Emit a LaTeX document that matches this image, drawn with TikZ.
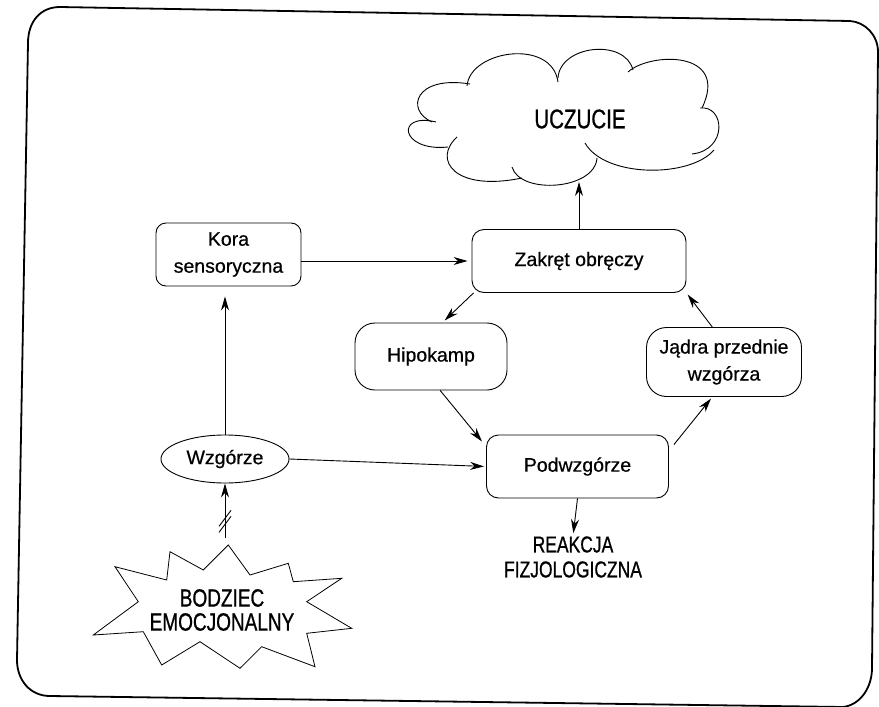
\documentclass[tikz,border=0pt]{standalone}
\usepackage{fontspec}
\setmainfont[FakeBold=0.6]{Liberation Sans}
\newfontfamily\narrowfont[FakeStretch=0.76,FakeBold=0.8]{Liberation Sans}
\usetikzlibrary{arrows.meta,shapes.geometric,calc}
\begin{document}
\begin{tikzpicture}[x=1pt,y=-1pt,
  box/.style={draw, line width=0.9pt, rounded corners=10pt, align=center,
    inner sep=0pt, font=\fontsize{19.5}{27}\selectfont},
  capstext/.style={align=center, inner sep=0pt},
  arr/.style={-{Stealth[length=14pt,width=8pt,inset=4.5pt]}, line width=0.9pt},
  lobe/.style={line width=0.9pt}]
\useasboundingbox (0,0) rectangle (879,707);

% outer frame
\draw[line width=1.8pt]
  (28,43) .. controls (28,22) and (40,7) .. (60,7) -- (850,21)
  .. controls (865,22) and (878,35) .. (878,52) -- (872,668)
  .. controls (872,688) and (860,705) .. (843,707) -- (50,696)
  .. controls (30,696) and (17,680) .. (17,660) -- cycle;

% cloud
\draw[lobe] (467,86) .. controls (470,50) and (552,38) .. (558,82);
\draw[lobe] (558,78) .. controls (560,45) and (625,38) .. (633,70);
\draw[lobe] (628,72) .. controls (650,52) and (730,50) .. (702,108);
\draw[lobe] (700,108) .. controls (725,105) and (728,150) .. (692,154);
\draw[lobe] (714,150) .. controls (690,178) and (605,178) .. (585,143);
\draw[lobe] (597,158) .. controls (595,190) and (520,195) .. (512,167);
\draw[lobe] (457,137) .. controls (432,160) and (455,192) .. (522,178);
\draw[lobe] (448,147) .. controls (400,152) and (395,112) .. (436,122);
\draw[lobe] (432,122) .. controls (405,110) and (415,75) .. (470,84);
\node[capstext, font=\narrowfont\fontsize{27}{30}\selectfont] (uczucie) at (580,119) {UCZUCIE};
\coordinate (cloudbot) at (579,182);

% starburst
\draw[line width=0.8pt] (228.3,545) -- (250,575) -- (288.3,563.3) -- (293.3,581.7)
  -- (341.7,578.3) -- (306.7,601.7) -- (351.7,628.3) -- (306.7,633.3)
  -- (315,666.7) -- (261.7,646.7) -- (240,668.3) -- (200,641.7)
  -- (161.7,665) -- (143.3,631.7) -- (93.3,635) -- (138.3,601.7)
  -- (115,566.7) -- (166.7,580) -- (170,551.7) -- (203.3,570) -- cycle;
\node[capstext, font=\narrowfont\fontsize{25}{24}\selectfont] (bodziec) at (222,610) {BODZIEC\\EMOCJONALNY};
\coordinate (btop) at (225,545);

% boxes
\node[box, minimum width=145, minimum height=63] (kora) at (228.5,254.5) {Kora\\sensoryczna};
\node[box, rounded corners=12pt, minimum width=214, minimum height=63] (zakret) at (579,261) {Zakręt obręczy};
\node[box, rounded corners=20pt, minimum width=152, minimum height=67] (hipo) at (431,356.5) {Hipokamp};
\node[box, rounded corners=20pt, minimum width=155, minimum height=69] (jadra) at (724,362) {Jądra przednie\\wzgórza};
\node[box, rounded corners=12pt, minimum width=182, minimum height=63] (podw) at (577.5,466.5) {Podwzgórze};
\node[draw, ellipse, line width=0.9pt, inner sep=0pt, minimum width=128, minimum height=48,
  font=\fontsize{19.5}{27}\selectfont] (wzg) at (225,459) {Wzgórze};
\node[capstext, font=\narrowfont\fontsize{23}{25}\selectfont] (reakcja) at (573,557) {REAKCJA\\FIZJOLOGICZNA};

% connectors
\draw[arr, shorten >=4pt] (kora.east |- zakret.west) -- (zakret.west);
\draw[arr, shorten >=10pt] (wzg.north) -- (wzg.north |- kora.south);
\draw[arr, shorten >=2pt] (wzg.east) -- (podw.west);
\draw[arr] (zakret.north) -- (cloudbot);
\draw[arr, shorten >=3pt] ($(zakret.south west)+(2,0)$) -- ($(hipo.north)!0.15!(hipo.north east)$);
\draw[arr] ($(hipo.south)!0.12!(hipo.south east)$) -- ($(podw.north west)+(-4,7)$);
\draw[arr, shorten >=2pt] ($(podw.north east)+(5,10)$) -- ($(jadra.south)!0.15!(jadra.south west)$);
\draw[arr, shorten >=2pt] ($(jadra.north)!0.15!(jadra.north west)$) -- (zakret.south east);
\draw[arr, shorten >=3pt] (podw.south) -- (reakcja.north);
\draw[arr, shorten <=7pt] (btop) -- coordinate[pos=0.4] (brk) (btop |- wzg.south);
\draw[line width=0.9pt] ([shift={(-6,6)}]brk) -- ([shift={(6,-10)}]brk);
\draw[line width=0.9pt] ([shift={(-6,12)}]brk) -- ([shift={(6,-4)}]brk);
\end{tikzpicture}
\end{document}
